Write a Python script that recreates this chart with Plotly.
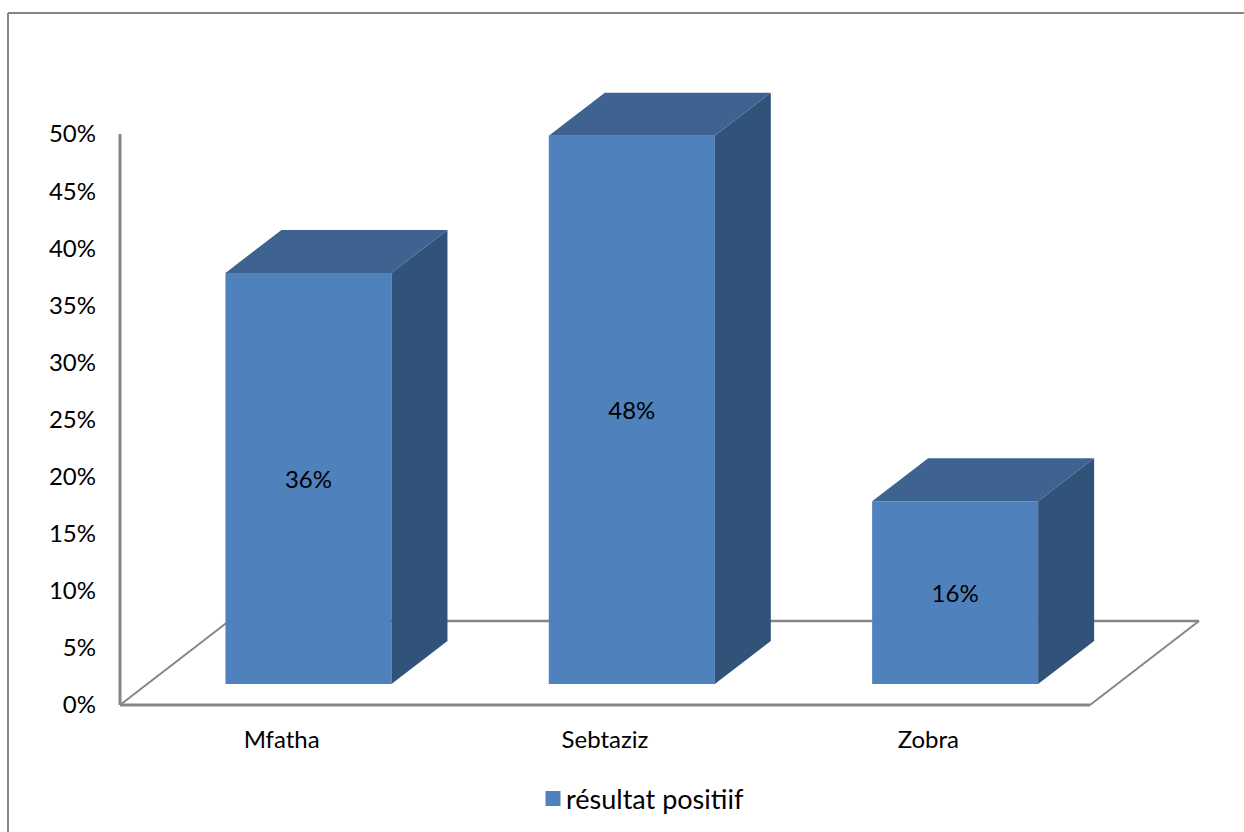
import plotly.graph_objects as go

# ---- data ----
categories = ["Mfatha", "Sebtaziz", "Zobra"]
values = [36, 48, 16]
series_name = "résultat positiif"
y_ticks = [0, 5, 10, 15, 20, 25, 30, 35, 40, 45, 50]

# ---- scale and depth (pixels per axis unit) ----
W, H = 1244, 832
PX_X = 323.33   # pixels per category
PX_Y = 11.42    # pixels per percent
FONT = "Lato"
FS = 24
FRONT, TOP, SIDE, GREY = "#4f81bd", "#3e6390", "#325379", "#868686"

bar_w = 166 / PX_X
bar_shift = 26.8 / PX_X
base_y = 21 / PX_Y
depth_x, depth_y = 56 / PX_X, 43 / PX_Y
floor_x, floor_y = 109 / PX_X, 84 / PX_Y

L, R, T, B = 110, 34, 85, 117
PW, PH = W - L - R, H - T - B
x_min = -0.5 - 10 / PX_X
x_max = x_min + PW / PX_X
y_min = -10 / PX_Y
y_max = y_min + PH / PX_Y

fig = go.Figure()
positions = [i + bar_shift for i in range(len(categories))]

fig.add_trace(go.Bar(
    x=positions, y=values, base=base_y, width=bar_w,
    marker=dict(color=FRONT, line=dict(width=0)),
    text=[f"{v}%" for v in values], textposition="inside",
    insidetextanchor="middle", textangle=0, constraintext="none",
    textfont=dict(family=FONT, size=FS, color="black"),
    showlegend=False, hoverinfo="skip",
))

side_x, side_y, top_x, top_y = [], [], [], []
for p, v in zip(positions, values):
    xl, xr = p - bar_w / 2, p + bar_w / 2
    yt = base_y + v
    side_x += [xr, xr + depth_x, xr + depth_x, xr, None]
    side_y += [base_y, base_y + depth_y, yt + depth_y, yt, None]
    top_x += [xl, xl + depth_x, xr + depth_x, xr, None]
    top_y += [yt, yt + depth_y, yt + depth_y, yt, None]

for xs, ys, col in ((side_x, side_y, SIDE), (top_x, top_y, TOP)):
    fig.add_trace(go.Scatter(
        x=xs, y=ys, mode="lines", fill="toself", fillcolor=col,
        line=dict(width=0, color=col), showlegend=False, hoverinfo="skip",
    ))

fig.add_trace(go.Scatter(
    x=[None], y=[None], mode="markers", name=series_name,
    marker=dict(symbol="square", size=15, color=FRONT),
))

x0, x1 = -0.5, len(categories) - 0.5
shapes = [
    dict(type="line", x0=x0, x1=x0, y0=0, y1=y_ticks[-1], line=dict(color=GREY, width=3)),
    dict(type="line", x0=x0, x1=x1, y0=0, y1=0, line=dict(color=GREY, width=3)),
    dict(type="line", x0=x0 + floor_x, x1=x1 + floor_x, y0=floor_y, y1=floor_y, line=dict(color=GREY, width=2.5)),
    dict(type="line", x0=x0, x1=x0 + floor_x, y0=0, y1=floor_y, line=dict(color=GREY, width=2)),
    dict(type="line", x0=x1, x1=x1 + floor_x, y0=0, y1=floor_y, line=dict(color=GREY, width=2)),
]
for s in shapes:
    s.update(xref="x", yref="y", layer="below")
# outer chart frame, running off the right and bottom edges of the image
frame_l = (8 - L) / PW
frame_t = 1 + (T - 13) / PH
shapes += [
    dict(type="line", xref="paper", yref="paper", x0=frame_l, x1=1 + R / PW,
         y0=frame_t, y1=frame_t, line=dict(color=GREY, width=2), layer="below"),
    dict(type="line", xref="paper", yref="paper", x0=frame_l, x1=frame_l,
         y0=frame_t, y1=-B / PH, line=dict(color=GREY, width=2), layer="below"),
]

fig.update_layout(
    width=W, height=H, autosize=False,
    margin=dict(l=L, r=R, t=T, b=B, pad=0),
    paper_bgcolor="white", plot_bgcolor="rgba(0,0,0,0)",
    font=dict(family=FONT, size=FS, color="black"),
    shapes=shapes,
    xaxis=dict(range=[x_min, x_max], tickmode="array",
               tickvals=list(range(len(categories))), ticktext=categories,
               showgrid=False, zeroline=False, showline=False, ticks="",
               ticklabelstandoff=8, tickfont=dict(family=FONT, size=FS, color="black")),
    yaxis=dict(range=[y_min, y_max], tickmode="array",
               tickvals=y_ticks, ticktext=[f"{t}%" for t in y_ticks],
               showgrid=False, zeroline=False, showline=False, ticks="",
               ticklabelstandoff=13, tickfont=dict(family=FONT, size=FS, color="black")),
    showlegend=True,
    legend=dict(orientation="h", x=(526 - L) / PW, xanchor="left",
                yref="container", y=1 - 799 / H, yanchor="middle",
                font=dict(family=FONT, size=27, color="black"),
                bgcolor="rgba(0,0,0,0)"),
)

css = "var s=document.createElement('style');" \
      "s.textContent='body{margin:0}.legendsymbols{transform:translateX(7px)}';" \
      "document.head.appendChild(s);"
fig.write_html("out.html", post_script=css, config={"displayModeBar": False})
